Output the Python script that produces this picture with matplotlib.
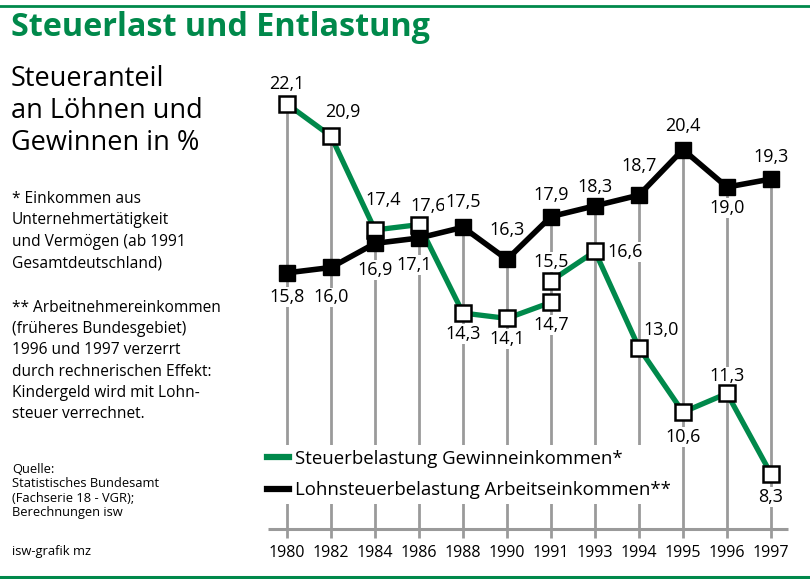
import numpy as np
import matplotlib
matplotlib.use("Agg")
from matplotlib import pyplot as plt
from matplotlib.lines import Line2D

plt.rcParams['font.family'] = ['Open Sans', 'DejaVu Sans']

# ------------------------------------------------------------
# data
years = ['1980', '1982', '1984', '1986', '1988', '1990', '1991',
         '1993', '1994', '1995', '1996', '1997']
# Steuerbelastung Gewinneinkommen (two values for 1991: West / gesamt)
gewinn_west = [22.1, 20.9, 17.4, 17.6, 14.3, 14.1, 14.7]
gewinn_gesamt = [15.5, 16.6, 13.0, 10.6, 11.3, 8.3]
# Lohnsteuerbelastung Arbeitseinkommen
lohn = [15.8, 16.0, 16.9, 17.1, 17.5, 16.3, 17.9, 18.3, 18.7, 20.4, 19.0, 19.3]

GREEN = '#00894b'
GREY = '#9a9a9a'
W, H = 810, 579

# label offsets in pixels (dx, dy downwards)
off_west = [(0, -20), (12, -24), (8, -30), (9, -19), (0, 21), (0, 21), (0, 23)]
off_gesamt = [(0, -19), (30, 1), (22, -18), (0, 25), (0, -17), (0, 23)]
off_lohn = [(0, 24), (0, 30), (0, 27), (-5, 27), (0, -25), (0, -29),
            (0, -22), (0, -19), (0, -29), (0, -24), (0, 21), (0, -22)]

x = np.arange(len(years))
x_west = x[:7]
x_gesamt = x[6:]

fig = plt.figure(figsize=(W / 100, H / 100), dpi=100)
ax = fig.add_axes([0, 0, 1, 1])
ax.set_xlim(-287 / 44.0, (W - 287) / 44.0)
ax.set_ylim(22.1 - (H - 104) / 26.8, 22.1 + 104 / 26.8)
ax.axis('off')

y_axis = 6.24
tick_bottom = 5.91

# grey drop lines from highest value to the axis
top_vals = np.maximum(lohn, [*gewinn_west[:6], max(gewinn_west[6], gewinn_gesamt[0]),
                             *gewinn_gesamt[1:]])
ax.vlines(x, tick_bottom, top_vals, color=GREY, lw=2, zorder=1)
ax.hlines(y_axis, -0.43, 11.39, color=GREY, lw=2.2, zorder=1)
for xi, yr in zip(x, years):
    ax.text(xi, 5.35, yr, ha='center', va='center', fontsize=11.5)

# series
ax.plot(x_west, gewinn_west, color=GREEN, lw=3.8, zorder=3, solid_capstyle='butt')
ax.plot(x_gesamt, gewinn_gesamt, color=GREEN, lw=3.8, zorder=3)
ax.plot(x_west, gewinn_west, ls='none', marker='s', ms=11, mfc='white',
        mec='black', mew=1.8, zorder=4)
ax.plot(x_gesamt, gewinn_gesamt, ls='none', marker='s', ms=11, mfc='white',
        mec='black', mew=1.8, zorder=4)
ax.plot(x, lohn, color='black', lw=4.0, zorder=5)
ax.plot(x, lohn, ls='none', marker='s', ms=11.5, mfc='black', mec='black',
        zorder=6)


def fmt(v):
    return ('%.1f' % v).replace('.', ',')


def label(xs, vals, offs):
    for xi, v, (dx, dy) in zip(xs, vals, offs):
        ax.annotate(fmt(v), (xi, v), xytext=(dx * 0.72, -dy * 0.72),
                    textcoords='offset points', ha='center', va='center',
                    fontsize=13, zorder=2,
                    bbox=dict(boxstyle='square,pad=0.05', fc='white', ec='none'))


label(x_west, gewinn_west, off_west)
label(x_gesamt, gewinn_gesamt, off_gesamt)
label(x, lohn, off_lohn)

# legend
handles = [Line2D([], [], color=GREEN, lw=4.5),
           Line2D([], [], color='black', lw=4.5)]
leg = ax.legend(handles, ['Steuerbelastung Gewinneinkommen*',
                          'Lohnsteuerbelastung Arbeitseinkommen**'],
                loc='upper left', bbox_to_anchor=(262 / W, 1 - 445 / H),
                frameon=True, fancybox=False, fontsize=13.4, handlelength=1.2,
                handletextpad=0.3, labelspacing=0.72, borderpad=0.25,
                borderaxespad=0)
leg.get_frame().set_facecolor('white')
leg.get_frame().set_edgecolor('none')
leg.get_frame().set_alpha(1)
leg.set_zorder(2)

# frame lines and texts
ax.axhline(22.1 + (104 - 6) / 26.8, color=GREEN, lw=2)
ax.axhline(22.1 - (577 - 104) / 26.8, color=GREEN, lw=2.2)


def ftext(px, py, s, **kw):
    ax.text(px / W, 1 - py / H, s, transform=ax.transAxes, **kw)


ftext(11, 27, 'Steuerlast und Entlastung', fontsize=23.3, fontweight='bold',
      color=GREEN, va='center')
ftext(11, 111, 'Steueranteil\nan Löhnen und\nGewinnen in %', fontsize=19.5,
      va='center', linespacing=1.2, ma='left')
ftext(12, 231, '* Einkommen aus\nUnternehmertätigkeit\nund Vermögen (ab 1991\n'
      'Gesamtdeutschland)', fontsize=11.2, va='center', linespacing=1.45)
ftext(12, 361, '** Arbeitnehmereinkommen\n(früheres Bundesgebiet)\n'
      '1996 und 1997 verzerrt\ndurch rechnerischen Effekt:\n'
      'Kindergeld wird mit Lohn-\nsteuer verrechnet.', fontsize=11.2,
      va='center', linespacing=1.45)
ftext(12, 491, 'Quelle:\nStatistisches Bundesamt\n(Fachserie 18 - VGR);\n'
      'Berechnungen isw', fontsize=9.3, va='center', linespacing=1.12)
ftext(12, 551, 'isw-grafik mz', fontsize=9.3, va='center')

fig.savefig('out.png', dpi=100)
